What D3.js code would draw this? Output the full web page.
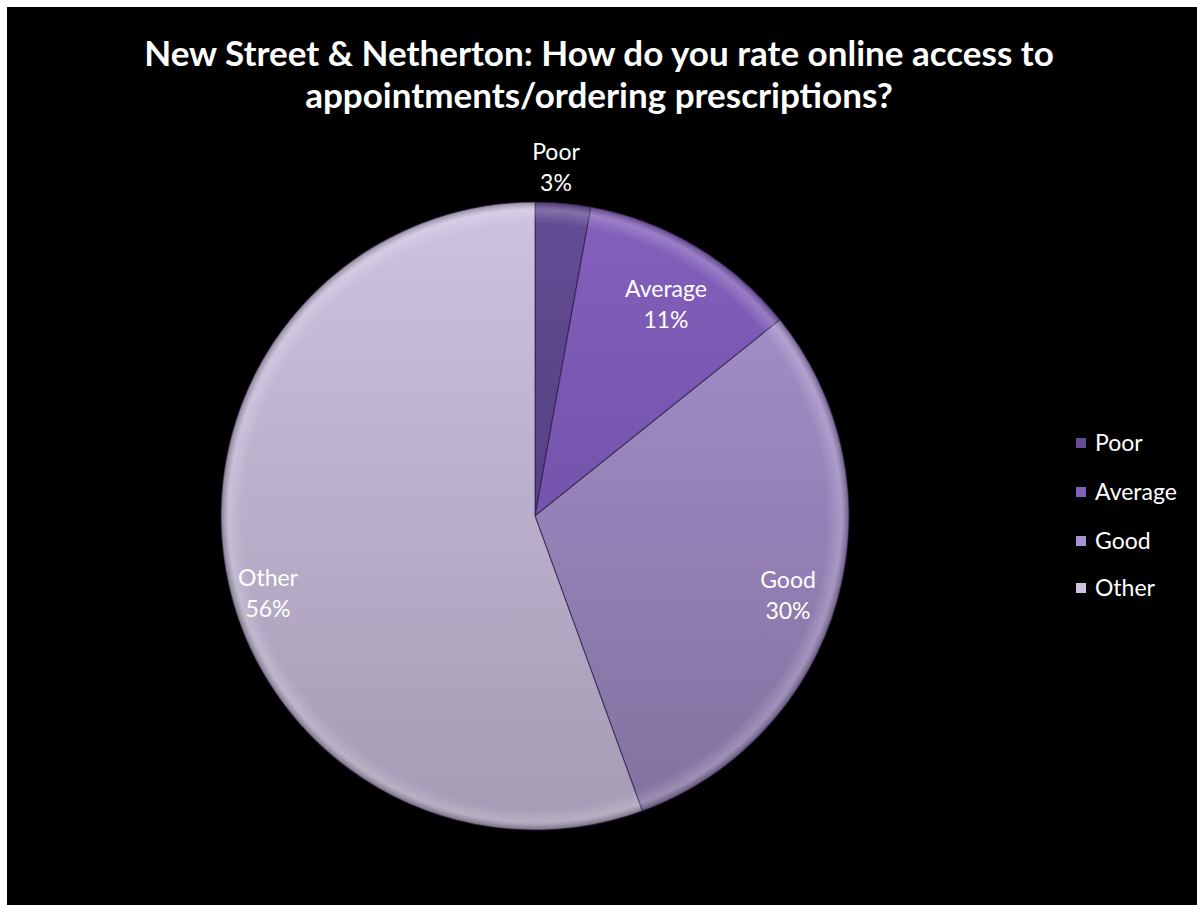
<!DOCTYPE html>
<html><head><meta charset="utf-8">
<script src="https://cdn.jsdelivr.net/npm/d3@7"></script>
<style>html,body{margin:0;padding:0;background:#fff;}svg{display:block;}</style>
</head><body>
<svg id="chart" width="1197" height="905"></svg>
<script>
const categories = ["Poor", "Average", "Good", "Other"];
const values = [10, 40, 106, 195];
const titleLines = ["New Street & Netherton: How do you rate online access to", "appointments/ordering prescriptions?"];
const colorsTop = ["#634c94", "#8460bc", "#a892d0", "#cdc2e0"];
const colorsBot = ["#4a3672", "#63479a", "#82709e", "#a49bb4"];

const svg = d3.select("#chart");
const W = 1197, H = 905;
svg.append("rect").attr("x", 7).attr("y", 7).attr("width", W - 7).attr("height", H - 7).attr("fill", "#000");

const font = "Lato, 'Open Sans', sans-serif";
svg.append("g").selectAll("text").data(titleLines).join("text")
  .attr("x", 599).attr("y", (d, i) => 66 + i * 42)
  .attr("text-anchor", "middle").attr("fill", "#fff")
  .attr("font-family", font).attr("font-weight", "bold").attr("font-size", 35)
  .text(d => d);

const cx = 535, cy = 516, R = 314;
const defs = svg.append("defs");
categories.forEach((c, i) => {
  const g = defs.append("linearGradient").attr("id", "g" + i)
    .attr("gradientUnits", "userSpaceOnUse").attr("x1", 0).attr("y1", -R).attr("x2", 0).attr("y2", R);
  g.append("stop").attr("offset", "0%").attr("stop-color", colorsTop[i]);
  g.append("stop").attr("offset", "100%").attr("stop-color", colorsBot[i]);
});
const bev = defs.append("radialGradient").attr("id", "bevel")
  .attr("gradientUnits", "userSpaceOnUse").attr("cx", 0).attr("cy", 0).attr("r", R);
bev.append("stop").attr("offset", "93%").attr("stop-color", "#fff").attr("stop-opacity", 0);
bev.append("stop").attr("offset", "97.5%").attr("stop-color", "#fff").attr("stop-opacity", 0.2);
bev.append("stop").attr("offset", "100%").attr("stop-color", "#000").attr("stop-opacity", 0.3);

const total = d3.sum(values);
const pie = d3.pie().sort(null).value(d => d)(values);
const arc = d3.arc().innerRadius(0).outerRadius(R);
const g = svg.append("g").attr("transform", `translate(${cx},${cy})`);
g.selectAll("path.s").data(pie).join("path").attr("class", "s")
  .attr("d", arc)
  .attr("fill", (d, i) => `url(#g${i})`)
  .attr("stroke", "rgba(40,25,70,0.6)").attr("stroke-width", 1.2);
g.selectAll("path.b").data(pie).join("path").attr("class", "b")
  .attr("d", arc).attr("fill", "url(#bevel)");

// labels
const labelPos = [[556, 152], [666, 289], [788, 580], [268, 578]];
const lab = svg.append("g").attr("font-family", font).attr("font-size", 23).attr("fill", "#fff").attr("text-anchor", "middle");
pie.forEach((d, i) => {
  const [lx, ly] = labelPos[i];
  const t = lab.append("text").attr("x", lx).attr("y", ly + 8);
  t.append("tspan").attr("x", lx).text(categories[i]);
  t.append("tspan").attr("x", lx).attr("dy", 31).text(Math.round(d.value / total * 100) + "%");
});

// legend
const lg = svg.append("g").attr("font-family", font).attr("font-size", 23).attr("fill", "#fff");
const legY = [443, 492, 541, 588];
categories.forEach((c, i) => {
  lg.append("rect").attr("x", 1076).attr("y", legY[i] - 5).attr("width", 10).attr("height", 10)
    .attr("fill", colorsTop[i]);
  lg.append("text").attr("x", 1095).attr("y", legY[i] + 8).text(c);
});
</script>
</body></html>
